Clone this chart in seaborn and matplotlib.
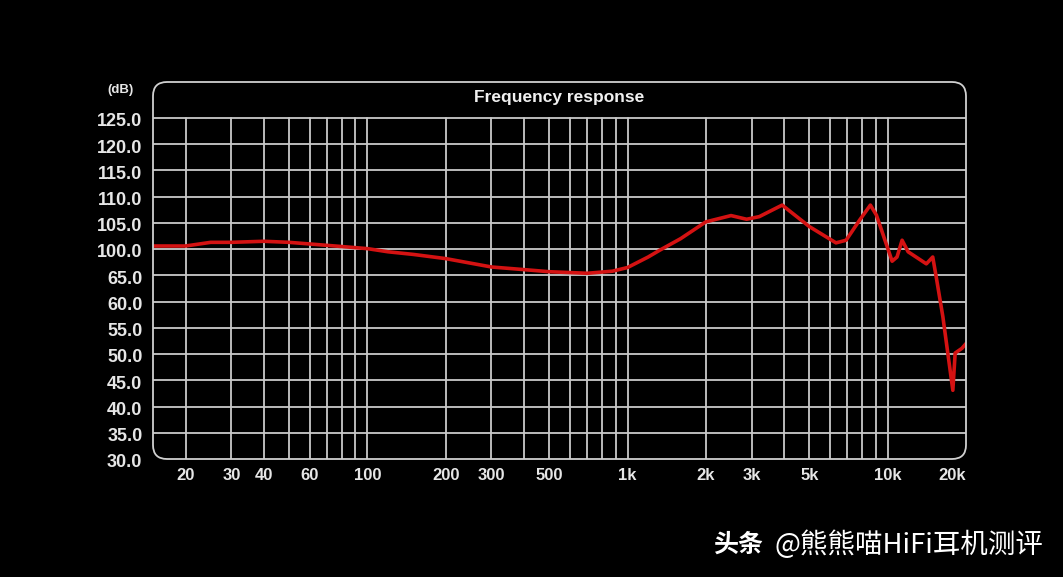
import matplotlib
matplotlib.use("Agg")
import matplotlib.pyplot as plt
import matplotlib.patches as mpatches
import seaborn as sns
import pandas as pd
import numpy as np

# ---- data (frequency in Hz, level in axis units; top labels are true dB) ----
freq_hz = [15, 20, 25, 30, 40, 50, 67, 100, 120, 150, 200, 300, 400, 500, 700,
           875, 1000, 1200, 1330, 1600, 2000, 2500, 2870, 3210, 3930, 5000,
           6330, 6920, 7790, 8580, 9050, 10400, 10860, 11360, 11980, 14080,
           14900, 15330, 16300, 17800, 18170, 19300, 20000]
level_db = [100.6, 100.6, 101.3, 101.3, 101.5, 101.3, 100.8, 100.1, 99.5, 99.0,
            98.2, 96.6, 96.1, 95.7, 95.4, 95.8, 96.5, 98.5, 99.8, 102.0, 105.2,
            106.4, 105.7, 106.2, 108.4, 104.3, 101.2, 101.7, 105.5, 108.4, 106.5,
            97.7, 98.5, 101.7, 99.5, 97.2, 98.5, 95.0, 87.1, 73.1, 80.2, 81.1, 82.0]

y_tick_pos = [60, 65, 70, 75, 80, 85, 90, 95, 100, 105, 110, 115, 120, 125]
y_tick_labels = ["30.0", "35.0", "40.0", "45.0", "50.0", "55.0", "60.0", "65.0",
                 "100.0", "105.0", "110.0", "115.0", "120.0", "125.0"]
x_tick_pos = [20, 30, 40, 60, 100, 200, 300, 500, 1000, 2000, 3000, 5000, 10000, 20000]
x_tick_labels = ["20", "30", "40", "60", "100", "200", "300", "500", "1k", "2k",
                 "3k", "5k", "10k", "20k"]
grid_freqs = ([20, 30, 40, 50, 60, 70, 80, 90] +
              [100, 200, 300, 400, 500, 600, 700, 800, 900] +
              [1000, 2000, 3000, 4000, 5000, 6000, 7000, 8000, 9000, 10000])

df = pd.DataFrame({"freq": freq_hz, "level": level_db})

sns.set_style("dark")
plt.rcParams["font.family"] = ["Liberation Sans", "DejaVu Sans"]

W, H = 1063, 577
fig = plt.figure(figsize=(W / 100, H / 100), dpi=100, facecolor="black")
L, R, T, B = 153, 966, 82, 459
ax = fig.add_axes([L / W, (H - B) / H, (R - L) / W, (B - T) / H])
ax.set_facecolor("black")

ymin, ymax_grid = 60, 125
px_per_unit = (459 - 118) / 65.0
ytop = ymax_grid + (118 - T) / px_per_unit

ax.set_xscale("log")
ax.set_xlim(15, 20000)
ax.set_ylim(ymin, ytop)

grid_col = "#c9c9c9"
for f in grid_freqs:
    ax.plot([f, f], [ymin, ymax_grid], color=grid_col, lw=1.3, zorder=1)
for yv in y_tick_pos[1:]:
    ax.plot([15, 20000], [yv, yv], color=grid_col, lw=1.3, zorder=1)

sns.lineplot(data=df, x="freq", y="level", ax=ax, color="#d41212", lw=2.6,
             zorder=3, legend=False)

for s in ax.spines.values():
    s.set_visible(False)
ax.set_xlabel("")
ax.set_ylabel("")
ax.set_xticks([])
ax.set_yticks([])
ax.grid(False)

lab_col = "#e6e6e6"
for yv, lab in zip(y_tick_pos, y_tick_labels):
    ax.text(-0.013, (yv - ymin) / (ytop - ymin) - 0.01, lab, transform=ax.transAxes,
            ha="right", va="center", color=lab_col, fontsize=13, fontweight="bold")
for xv, lab in zip(x_tick_pos, x_tick_labels):
    ax.text(xv, ymin - 3.2, lab, ha="right" if lab == "20k" else "center",
            va="center", color=lab_col, fontsize=12, fontweight="bold",
            clip_on=False)

ax.text(0.5, 1 - 16 / (B - T), "Frequency response", transform=ax.transAxes,
        ha="center", va="center", color="#f0f0f0", fontsize=12.5, fontweight="bold")
fig.text(107 / W, 1 - 90 / H, "(dB)", ha="left", va="center", color=lab_col,
         fontsize=9.5, fontweight="bold")

border = mpatches.FancyBboxPatch((L, H - B), R - L, B - T,
                                 boxstyle="round,pad=0,rounding_size=14",
                                 transform=None, fill=False, edgecolor="#d0d0d0",
                                 lw=1.3, zorder=5)
fig.add_artist(border)

cjk = ["Noto Sans CJK SC", "DejaVu Sans"]
fig.text(713 / W, 1 - 545 / H, "头条", family=cjk, ha="left", va="center",
         color="white", fontsize=18, fontweight="bold")
fig.text(775 / W, 1 - 545 / H, "@熊熊喵HiFi耳机测评", family=cjk, ha="left",
         va="center", color="white", fontsize=19.8)

fig.savefig("out.png", dpi=100, facecolor="black")
